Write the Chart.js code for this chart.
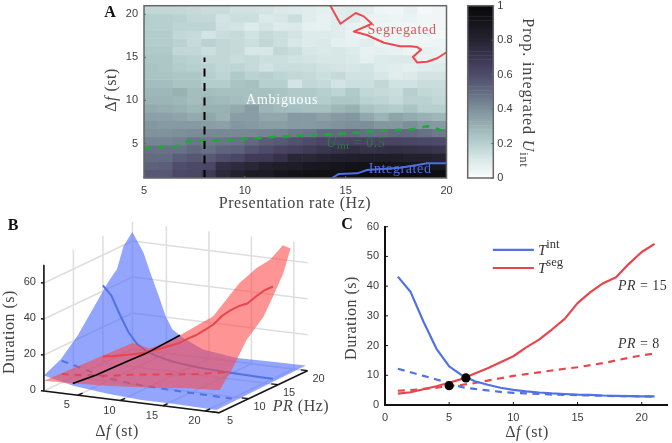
<!DOCTYPE html>
<html><head><meta charset="utf-8">
<script src="https://cdn.jsdelivr.net/npm/chart.js@4"></script>
<style>html,body{margin:0;padding:0;background:#fff;width:672px;height:443px;overflow:hidden}canvas{position:absolute}</style>
</head><body>
<canvas id="a" width="460" height="215" style="left:0;top:0"></canvas>
<canvas id="cb" width="212" height="215" style="left:460px;top:0"></canvas>
<canvas id="b" width="335" height="233" style="left:0;top:210px"></canvas>
<canvas id="c" width="342" height="233" style="left:330px;top:210px"></canvas>
<script>
// ---------- data ----------
const deltaF = [1,2,3,4,5,6,7,8,9,10,11,12,13,14,15,16,17,18,19,20,21];
const intPR15 = [43.2,38,28,19,13,10,8,6.8,5.8,5.1,4.6,4.2,3.9,3.7,3.5,3.4,3.2,3.1,3,2.9,2.9];
const segPR15 = [3.8,4.3,5.3,6.3,7.5,8.8,10.6,12.4,14.4,16.4,19.4,22,25.4,29,34.3,38,41,43,47.5,51.5,54.2];
const intPR8 = [12.2,11,9.8,8.6,7.4,6,5.4,4.9,4.4,4.1,3.9,3.7,3.5,3.4,3.3,3.2,3.1,3,3,2.9,2.8];
const segPR8 = [4.8,5,5.4,5.8,6.4,6.8,7.4,8.2,9,9.8,10.4,11,11.6,12.2,12.7,13.4,14.1,15,15.9,16.7,17.3];
const crossPoints = [[5,6.5],[6.3,9.1]];
const legendXs = [8.4,11.6], legendYInt = 52.2, legendYSeg = 46.1;
const aYTicks = [5,10,15,20];

// heat map: rows from delta-f 21 (top) down to 1 (bottom), 21 columns across presentation rate
const heatRows = [
[.17,.17,.17,.16,.15,.15,.13,.13,.12,.10,.09,.08,.07,.08,.09,.07,.03,.03,.06,.02,.03],
[.20,.20,.19,.17,.17,.12,.14,.14,.10,.11,.14,.08,.06,.08,.09,.05,.05,.04,.05,.03,.03],
[.20,.20,.18,.18,.18,.13,.12,.09,.12,.09,.10,.07,.06,.08,.06,.05,.04,.03,.03,.03,.03],
[.21,.21,.17,.16,.12,.15,.16,.13,.16,.14,.12,.09,.09,.08,.05,.03,.03,.04,.03,.03,.02],
[.21,.21,.19,.16,.19,.17,.16,.14,.17,.14,.11,.09,.10,.07,.06,.08,.05,.04,.03,.03,.04],
[.22,.22,.17,.17,.14,.17,.16,.11,.11,.17,.15,.11,.10,.11,.09,.06,.07,.06,.04,.06,.05],
[.23,.23,.20,.19,.17,.17,.15,.16,.14,.14,.13,.12,.11,.11,.10,.07,.09,.10,.10,.05,.07],
[.24,.23,.21,.20,.19,.17,.18,.16,.13,.15,.15,.14,.13,.12,.11,.12,.09,.08,.07,.08,.09],
[.24,.24,.23,.23,.20,.18,.22,.19,.20,.18,.17,.16,.14,.16,.13,.13,.11,.08,.10,.12,.12],
[.26,.26,.24,.24,.21,.21,.24,.25,.20,.20,.12,.17,.16,.12,.14,.14,.17,.13,.13,.15,.15],
[.28,.28,.30,.26,.26,.25,.25,.25,.25,.24,.22,.22,.20,.18,.22,.17,.16,.15,.20,.17,.16],
[.29,.29,.28,.26,.28,.27,.26,.25,.27,.23,.21,.22,.21,.23,.23,.19,.18,.16,.19,.19,.17],
[.32,.31,.30,.28,.30,.30,.32,.36,.29,.27,.26,.25,.25,.28,.30,.24,.22,.21,.24,.20,.20],
[.35,.35,.34,.32,.33,.30,.36,.36,.33,.33,.37,.37,.35,.37,.38,.33,.29,.34,.32,.30,.28],
[.38,.37,.37,.37,.36,.35,.38,.37,.36,.36,.37,.37,.38,.39,.40,.40,.38,.38,.40,.38,.37],
[.39,.39,.40,.41,.42,.42,.42,.42,.43,.44,.46,.47,.50,.50,.51,.49,.49,.50,.50,.48,.46],
[.43,.43,.44,.47,.46,.47,.48,.51,.54,.55,.58,.60,.62,.62,.63,.63,.63,.63,.62,.61,.60],
[.48,.48,.48,.51,.49,.52,.53,.57,.60,.63,.65,.67,.70,.72,.74,.72,.73,.74,.73,.72,.70],
[.50,.50,.54,.56,.55,.59,.62,.67,.68,.72,.78,.78,.80,.82,.83,.84,.84,.84,.82,.82,.80],
[.53,.54,.59,.61,.62,.74,.76,.78,.82,.84,.85,.88,.89,.90,.92,.92,.92,.91,.90,.90,.88],
[.56,.56,.61,.62,.68,.77,.82,.86,.86,.90,.92,.94,.94,.94,.96,.97,.97,.97,.97,.96,.96]
];
// contours: [presentation rate, delta-f]
const segContour = [[14.24,21],[14.74,18.9],[15.5,20.15],[15.9,19.76],[16.3,18.9],[15.4,18],[16.05,17.6],[16.9,16.7],[17.7,16.3],[18.2,16.3],[18.55,16.2],[18.74,15.9],[18.33,15.05],[18.55,14.4],[19.04,14.5],[19.54,14.9],[20,15.6]];
const intContour = [[14.32,1],[14.65,1.46],[15.57,1.54],[16.06,1.93],[17.7,2.2],[18.55,2.5],[19.04,2.7],[20,2.7]];
const halfContour = [[5,4.45],[6.62,4.7],[7.2,5.3],[9.4,5.4],[11.1,5.73],[14.4,6.1],[17.7,6.6],[18.3,6.66],[19.04,7],[19.6,6.66],[20,6.2]];
const prSlice = [[8,1],[8,15]];

// panel B surfaces: outline triples [delta-f, PR, duration]
const blueEdgeLow = [[1,5,8.7],[1,7.9,13.3],[1,10.7,21.8],[1,13.6,34],[1,15.9,43.6],[1,17.4,48.5],[1,18.5,59.6],[1,20,65]];
const blueEdgeBack = [[2.3,20,54.4],[3.1,20,43.8],[4.1,20,31.3],[4.9,20,20.7],[5.7,20,13.7],[6.9,20,9.8],[9.3,20,4.6],[13.3,20,2.2],[17.2,20,2.5],[21.4,20,2.8]];
const blueEdgeFront = [[21.3,5,1.3],[16.2,5,1.8],[12.3,5,1.8],[8.4,5,3],[4.46,5,4.9],[1,5,8.7]];
const redEdgeFront = [[1,5,5.7],[3.3,5,6.1],[8.8,5,7.3],[13.5,5,9.3],[17.8,5,11.4],[21.3,5,12.4]];
const redEdgeRight = [[21,6,10.7],[21,8.3,20],[21,10.5,31.4],[21,13.4,39.9],[21,15,48.5],[21,16.75,58.7],[21,18,70.7]];
const redEdgeBack = [[18.7,20,68],[17.2,20,59],[15.6,20,53.5],[13.6,20,44],[10.5,20,23.7],[6.6,20,10.9],[5,20,6],[3,20,1.5],[1,20,3.3]];
const ridge = [[4.4,5,6.2],[5,8,6.5],[5.7,12,7.8],[6.3,15,9],[6.6,20,10.9]];
const dfTicks = [5,10,15,20], prTicks = [5,10,15,20], durTicks = [0,20,40,60];

// ---------- shared ----------
const SANS='"Liberation Sans"', SERIF='"Liberation Serif"';
const BLUE='#5272e4', RED='#e8454c', TICK='#3c3c3c';
const cmapStops=[[0,[249,252,252]],[.1,[219,233,233]],[.2,[182,208,207]],[.3,[152,177,179]],[.4,[125,144,154]],[.5,[99,107,129]],[.6,[78,74,106]],[.7,[58,54,80]],[.8,[37,35,48]],[.9,[22,21,28]],[1,[8,8,10]]];
function cmap(v){for(let i=1;i<cmapStops.length;i++){if(v<=cmapStops[i][0]){const[a,ca]=cmapStops[i-1],[b,cb]=cmapStops[i],t=(v-a)/(b-a);return`rgb(${ca.map((c,k)=>Math.round(c+(cb[k]-c)*t)).join(',')})`}}return'rgb(8,8,10)'}
const textItems={a:[],cb:[],b:[],c:[]};
const richText={id:'richText',afterDatasetsDraw(chart){
  const ctx=chart.ctx;
  textItems[chart.canvas.id].forEach(it=>{
    ctx.save();
    let x=it.x,y=it.y;
    if(it.data){x=chart.scales.x.getPixelForValue(it.x);y=chart.scales.y.getPixelForValue(it.y)}
    ctx.translate(x,y);if(it.rot)ctx.rotate(it.rot);
    ctx.fillStyle=it.color||'#333';ctx.textBaseline='middle';ctx.textAlign='left';
    ctx.letterSpacing=(it.spacing||0)+'px';
    const ws=it.runs.map(r=>{ctx.font=r[1];return ctx.measureText(r[0]).width});
    const w=ws.reduce((p,q)=>p+q,0);
    let cx=it.align==='left'?0:it.align==='right'?-w:-w/2;
    it.runs.forEach((r,i)=>{ctx.font=r[1];ctx.fillText(r[0],cx,r[2]||0);cx+=ws[i]});
    ctx.restore();
  });
}};
const frame={id:'frame',afterDatasetsDraw(chart,args,opts){
  if(!opts.color)return;const c=chart.ctx,a=chart.chartArea;
  c.save();c.strokeStyle=opts.color;c.lineWidth=opts.width||1.5;
  if(opts.box)c.strokeRect(a.left,a.top,a.right-a.left,a.bottom-a.top);
  c.lineWidth=1;
  const L=opts.tick||3;
  if(chart.scales.x.options.display!==false)chart.scales.x.ticks.forEach(t=>{const p=chart.scales.x.getPixelForValue(t.value);c.beginPath();c.moveTo(p,a.bottom);c.lineTo(p,a.bottom-L);c.stroke()});
  chart.scales.y.ticks.forEach(t=>{const p=chart.scales.y.getPixelForValue(t.value);c.beginPath();
    if(opts.rightTicks){c.moveTo(a.right,p);c.lineTo(a.right-L,p)}else{c.moveTo(a.left,p);c.lineTo(a.left+L,p)}c.stroke()});
  c.restore();
}};
Chart.register(richText,frame);
Chart.defaults.animation=false;Chart.defaults.responsive=false;Chart.defaults.devicePixelRatio=1;
const tickFont={family:SANS,size:11};
const line=(data,color,width,dash,extra)=>Object.assign({type:'line',data,borderColor:color,borderWidth:width,borderDash:dash||[],pointRadius:0,tension:0,fill:false,clip:false,borderCapStyle:'butt',borderJoinStyle:'round'},extra||{});
const xy=a=>a.map(p=>({x:p[0],y:p[1]}));
const T=(s,size,dy)=>[s,`${size||16}px ${SERIF}`,dy||0];
const I=(s,size,dy)=>[s,`italic ${size||16}px ${SERIF}`,dy||0];
const noPad=s=>{s.paddingTop=s.paddingBottom=s.paddingLeft=s.paddingRight=0};
const noGrid={display:false,drawTicks:false};

// ---------- panel A ----------
const nCols=heatRows[0].length,nRows=heatRows.length;
const xMin=5,xMax=20,yMin=1,yMax=21;
const heatSets=heatRows.map((row,r)=>{
  const hi=yMax-r*(yMax-yMin)/nRows,lo=hi-(yMax-yMin)/nRows;
  return{type:'bar',grouped:false,barPercentage:1,categoryPercentage:1,borderWidth:0,
    data:row.map((v,c)=>({x:xMin+(c+.5)*(xMax-xMin)/nCols,y:[lo,hi]})),
    backgroundColor:row.map(cmap)};
});
textItems.a=[
  {runs:[T('Segregated',14)],x:17.8,y:18.1,data:true,color:'#e0555c',spacing:.7},
  {runs:[T('Integrated',14)],x:17.7,y:1.95,data:true,color:'#4f6fe6',spacing:.6},
  {runs:[T('Ambiguous',14)],x:11.85,y:10.05,data:true,color:'#fff',spacing:.75},
  {runs:[I('U',14),T('int',11,3),T(' = 0.5',14)],x:15.5,y:5.07,data:true,color:'#2c7a3c',spacing:.5},
  {runs:[T('Presentation rate (Hz)',16)],x:295,y:204,color:'#444',spacing:.55},
  {runs:[T('Δ',16),I('f',16),T(' (st)',16)],x:112,y:90,rot:-Math.PI/2,color:'#444',spacing:.5},
  {runs:[['A',`bold 16px ${SERIF}`]],x:110,y:13,color:'#111'}
];
new Chart(document.getElementById('a'),{
  data:{datasets:[
    line(xy(segContour),'#ec4a50',2),
    line(xy(intContour),'#4f6fe6',2),
    line(xy(prSlice),'#000',2,[8,6.5]),
    line(xy(halfContour),'#1cab34',2.5,[7,7]),
    ...heatSets]},
  options:{
    layout:{padding:{top:5.7,right:13.5,left:0,bottom:0}},
    plugins:{legend:{display:false},tooltip:{enabled:false},
      frame:{color:'#666',box:true,width:1.5,tick:2}},
    scales:{
      x:{type:'linear',min:xMin,max:xMax,offset:false,afterFit(s){s.height=37;noPad(s)},grid:noGrid,border:{display:false},
        ticks:{stepSize:5,font:tickFont,color:TICK,padding:6,maxRotation:0,includeBounds:false}},
      y:{type:'linear',min:yMin,max:yMax,afterFit(s){s.width=144;noPad(s)},afterBuildTicks(s){s.ticks=aYTicks.map(value=>({value}))},grid:noGrid,border:{display:false},
        ticks:{font:tickFont,color:TICK,padding:6}}
    }
  }
});

// ---------- colour bar ----------
const cbLevels=[];for(let i=0;i<128;i++)cbLevels.push((i+.5)/128);
textItems.cb=[{runs:[T('Prop. integrated ',16),I('U',16),T('int',12,4)],x:67,y:93,rot:Math.PI/2,color:'#444',spacing:.9}];
new Chart(document.getElementById('cb'),{
  type:'bar',
  data:{labels:[''],datasets:cbLevels.map(v=>({data:[1/cbLevels.length],backgroundColor:cmap(v),borderWidth:0,barPercentage:1,categoryPercentage:1,stack:'s'}))},
  options:{
    layout:{padding:{top:5.7,left:7.7,right:152.7,bottom:37}},
    plugins:{legend:{display:false},tooltip:{enabled:false},
      frame:{color:'#666',box:true,width:1.5,tick:2,rightTicks:true}},
    scales:{
      x:{display:false,stacked:true},
      y:{position:'right',stacked:true,min:0,max:1,afterFit(s){s.width=26;noPad(s)},grid:noGrid,border:{display:false},
        ticks:{stepSize:.2,font:tickFont,color:TICK,padding:4,callback:v=>String(+v.toFixed(1))}}
    }
  }
});

// ---------- panel B ----------
const dfEnd=21.6,zTop=70.7;
// oblique projection of (delta-f, PR, duration) into the chart plane
function proj(p){const[d,pr,z]=p;return{x:35.4+8.5*d+5.9*(pr-5),y:390+1.05*d-2.8*(pr-5)-1.8*z}}
const path=a=>a.map(proj);
const curve=(vals,pr)=>deltaF.map((d,i)=>proj([d,pr,vals[i]]));
const blueSurface=path([...blueEdgeLow,...blueEdgeBack,...blueEdgeFront]);
const redSurface=path([...redEdgeFront,...redEdgeRight,...redEdgeBack,redEdgeFront[0]]);
const GRID='#dedede';
const gridSets=[];
durTicks.forEach(z=>{gridSets.push(line(path([[1,5,z],[1,20,z],[dfEnd,20,z]]),GRID,1.5))});
prTicks.forEach(p=>{gridSets.push(line(path([[1,p,0],[1,p,zTop]]),GRID,1.5));gridSets.push(line(path([[1,p,0],[dfEnd,p,0]]),GRID,1.5))});
dfTicks.forEach(d=>{gridSets.push(line(path([[d,5,0],[d,20,0],[d,20,zTop]]),GRID,1.5))});
const axisSets=[
  line(path([[1,5,zTop-1],[1,5,0],[dfEnd,5,0],[dfEnd,20,0]]),'#161616',1.6),
  ...dfTicks.map(d=>line(path([[d,5,0],[d,5.8,0]]),'#161616',1.4)),
  ...prTicks.map(p=>line(path([[dfEnd,p,0],[dfEnd-.8,p,0]]),'#161616',1.4)),
  ...durTicks.map(z=>line(path([[1,5,z],[.65,5,z]]),'#161616',1.4))
];
const cv=q=>({x:q.x,y:q.y-210});
textItems.b=[
  ...dfTicks.map(d=>{const q=cv(proj([d,5,0]));return{runs:[[String(d),`11px ${SANS}`]],x:q.x-11,y:q.y+10,color:TICK}}),
  ...prTicks.map(p=>{const q=cv(proj([dfEnd,p,0]));return{runs:[[String(p),`11px ${SANS}`]],x:q.x+11,y:q.y+8,color:TICK}}),
  ...durTicks.map(z=>{const q=cv(proj([1,5,z]));return{runs:[[String(z),`11px ${SANS}`]],x:q.x-8,y:q.y-1,align:'right',color:TICK}}),
  {runs:[T('Duration (s)',16)],x:10,y:122,rot:-Math.PI/2,color:'#444',spacing:.5},
  {runs:[T('Δ',16),I('f',16),T(' (st)',16)],x:117,y:222,color:'#444',spacing:.5},
  {runs:[I('PR',16),T(' (Hz)',16)],x:301,y:197,color:'#444',spacing:.5},
  {runs:[['B',`bold 16px ${SERIF}`]],x:13,y:16,color:'#111'}
];
new Chart(document.getElementById('b'),{
  data:{datasets:[
    line(path(ridge),'#000',1.6),
    ...axisSets,
    line(curve(segPR15,15),RED,2),
    line(curve(segPR8,8),RED,2,[7,6]),
    line(redSurface,'rgba(0,0,0,0)',0,[],{fill:'shape',backgroundColor:'rgba(255,70,70,.58)'}),
    line(curve(intPR15,15),BLUE,2),
    line(curve(intPR8,8),BLUE,2,[7,6]),
    line(blueSurface,'rgba(0,0,0,0)',0,[],{fill:'shape',backgroundColor:'rgba(80,110,250,.62)'}),
    ...gridSets
  ]},
  options:{
    layout:{padding:0},
    plugins:{legend:{display:false},tooltip:{enabled:false}},
    scales:{
      x:{type:'linear',display:false,min:0,max:335},
      y:{type:'linear',display:false,min:210,max:443,reverse:true}
    }
  }
});

// ---------- panel C ----------
const cLine=(vals,c,dash)=>line(deltaF.map((d,i)=>({x:d,y:vals[i]})),c,2.2,dash);
textItems.c=[
  {runs:[I('T',15),T('int',12.5,-6)],x:208,y:41,align:'left',color:'#333'},
  {runs:[I('T',15),T('seg',12.5,-6)],x:208,y:59,align:'left',color:'#333'},
  {runs:[I('PR',14),T(' = 15',14)],x:288,y:76,align:'left',color:'#333',spacing:.45},
  {runs:[I('PR',14),T(' = 8',14)],x:288,y:134,align:'left',color:'#333',spacing:.45},
  {runs:[T('Duration (s)',16)],x:22,y:108,rot:-Math.PI/2,color:'#444',spacing:.5},
  {runs:[T('Δ',16),I('f',16),T(' (st)',16)],x:197,y:223,color:'#444',spacing:.5},
  {runs:[['C',`bold 16px ${SERIF}`]],x:17,y:15,color:'#111'}
];
new Chart(document.getElementById('c'),{
  data:{datasets:[
    {type:'scatter',data:xy(crossPoints),backgroundColor:'#000',borderWidth:0,pointRadius:4.6,clip:false},
    line([{x:legendXs[0],y:legendYInt},{x:legendXs[1],y:legendYInt}],BLUE,2.2),
    line([{x:legendXs[0],y:legendYSeg},{x:legendXs[1],y:legendYSeg}],RED,2.2),
    cLine(segPR15,RED),cLine(intPR15,BLUE),
    cLine(segPR8,RED,[7,5.5]),cLine(intPR8,BLUE,[7,5.5])
  ]},
  options:{
    layout:{padding:{top:16.7,right:1,left:0,bottom:0}},
    plugins:{legend:{display:false},tooltip:{enabled:false},
      frame:{color:'#111',tick:3}},
    scales:{
      x:{type:'linear',min:0,max:22,afterFit(s){s.height=38;noPad(s)},grid:{display:false,drawTicks:false},border:{display:true,color:'#111',width:2},
        ticks:{stepSize:5,font:tickFont,color:TICK,padding:6,maxRotation:0,includeBounds:false}},
      y:{type:'linear',min:0,max:60,afterFit(s){s.width=55;noPad(s)},grid:{display:false,drawTicks:false},border:{display:true,color:'#111',width:2},
        ticks:{stepSize:10,font:tickFont,color:TICK,padding:6}}
    }
  }
});
</script>
</body></html>
